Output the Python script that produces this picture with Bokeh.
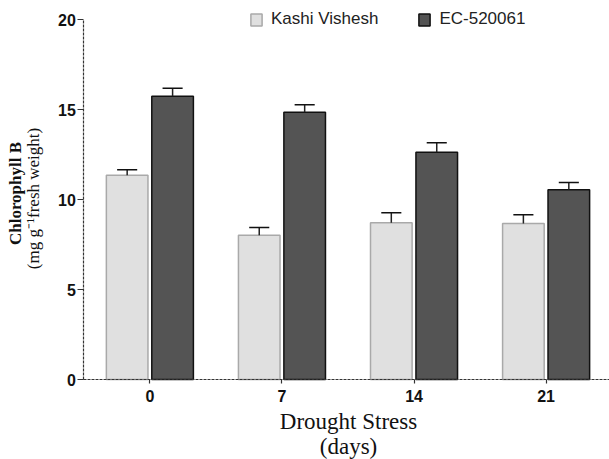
import numpy as np
from bokeh.plotting import figure
from bokeh.models import (ColumnDataSource, FixedTicker, Label, Legend, LegendItem, Range1d)
from bokeh.embed import file_html
from bokeh.resources import INLINE

days = ["0", "7", "14", "21"]
series_names = ["Kashi Vishesh", "EC-520061"]
kashi = [11.35, 8.02, 8.71, 8.67]
kashi_err = [0.30, 0.42, 0.55, 0.48]
ec = [15.74, 14.85, 12.63, 10.54]
ec_err = [0.44, 0.42, 0.52, 0.40]
y_ticks = [0, 5, 10, 15, 20]

x = np.arange(len(days))
offset = 0.172
bar_w = 0.315
cap_half = 0.076

# whole canvas is the frame; axes are pinned at x=-0.5 and y=0
p = figure(width=609, height=459, output_backend="svg", toolbar_location=None,
           x_range=Range1d(-1.131, 3.480), y_range=Range1d(-4.444, 21.056),
           min_border_left=0, min_border_right=0, min_border_top=0, min_border_bottom=0)
p.outline_line_color = None
p.grid.visible = False
p.background_fill_color = "white"

src_k = ColumnDataSource(dict(x=x - offset, top=kashi, up=np.array(kashi) + np.array(kashi_err),
                              l=x - offset - cap_half, r=x - offset + cap_half))
src_e = ColumnDataSource(dict(x=x + offset, top=ec, up=np.array(ec) + np.array(ec_err),
                              l=x + offset - cap_half, r=x + offset + cap_half))

rk = p.vbar(x="x", top="top", width=bar_w, source=src_k, fill_color="#e0e0e0",
            line_color="#a9a9a9", line_width=1.5)
re = p.vbar(x="x", top="top", width=bar_w, source=src_e, fill_color="#545454",
            line_color="#111111", line_width=1.5)
for s in (src_k, src_e):
    p.segment(x0="x", y0="top", x1="x", y1="up", source=s, line_color="#222222", line_width=1.5)
    p.segment(x0="l", y0="up", x1="r", y1="up", source=s, line_color="#111111", line_width=1.5)

# axes
p.xaxis.ticker = FixedTicker(ticks=list(x))
p.xaxis.major_label_overrides = {int(i): d for i, d in zip(x, days)}
p.xaxis.fixed_location = 0
p.xaxis.bounds = (-0.5, 3.480)
p.yaxis.ticker = FixedTicker(ticks=y_ticks)
p.yaxis.fixed_location = -0.5
p.yaxis.bounds = (0, 20)
for ax in (p.xaxis, p.yaxis):
    ax.axis_line_color = "#333333"
    ax.axis_line_width = 1.2
    ax.axis_line_dash = "3 1"
    ax.major_tick_line_color = "#333333"
    ax.major_tick_line_width = 1.2
    ax.minor_tick_line_color = None
    ax.major_tick_in = 0
    ax.major_label_text_font = "Liberation Sans"
    ax.major_label_text_font_style = "bold"
    ax.major_label_text_font_size = "16px"
    ax.major_label_text_color = "#111111"
p.xaxis.major_tick_out = 4
p.yaxis.major_tick_out = 6
p.xaxis.major_label_standoff = 6
p.yaxis.major_label_standoff = 2

# axis titles
serif = "Liberation Serif"
p.add_layout(Label(x=15, y=266, x_units="screen", y_units="screen", text="Chlorophyll B",
                   angle=np.pi / 2, text_align="center", text_baseline="middle",
                   text_font=serif, text_font_style="bold", text_font_size="17px",
                   text_color="#111111"))
p.add_layout(Label(x=33, y=261, x_units="screen", y_units="screen",
                   text="(mg g\u207b\u00b9fresh weight)",
                   angle=np.pi / 2, text_align="center", text_baseline="middle",
                   text_font=serif, text_font_size="17px", text_color="#111111"))
p.add_layout(Label(x=348, y=38, x_units="screen", y_units="screen", text="Drought Stress",
                   text_align="center", text_baseline="middle",
                   text_font=serif, text_font_size="23px", text_color="#111111"))
p.add_layout(Label(x=348, y=13, x_units="screen", y_units="screen", text="(days)",
                   text_align="center", text_baseline="middle",
                   text_font=serif, text_font_size="23px", text_color="#111111"))

legend = Legend(items=[LegendItem(label=series_names[0], renderers=[rk]),
                       LegendItem(label=series_names[1], renderers=[re])],
                orientation="horizontal", location=(249, 430),
                glyph_width=14, glyph_height=15, label_height=15, label_standoff=8,
                spacing=39, padding=0, margin=0, border_line_color=None,
                background_fill_alpha=0,
                label_text_font="Liberation Sans", label_text_font_size="17px",
                label_text_color="#222222")
p.add_layout(legend)

open("out.html", "w").write(file_html(p, INLINE))
